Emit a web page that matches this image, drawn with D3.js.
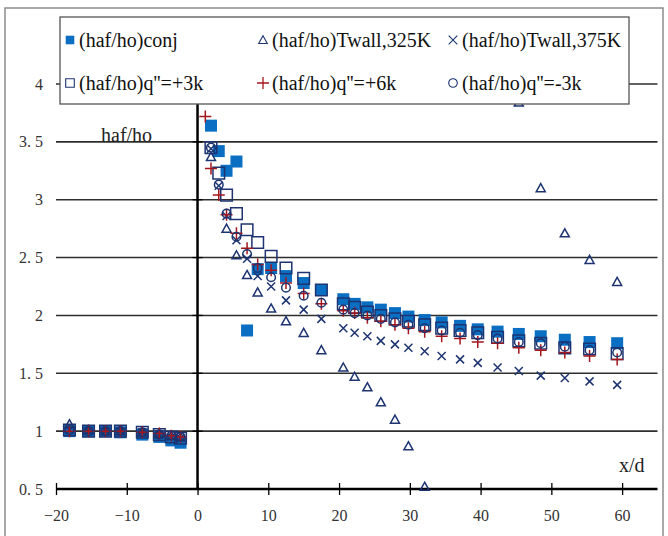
<!DOCTYPE html>
<html lang="en">
<head>
    <meta charset="UTF-8">
    <title>haf/ho vs x/d</title>
    <script src="https://d3js.org/d3.v7.min.js"></script>
    <style>
        body { margin: 0; background: #fff; }
        text { font-family: "Liberation Serif", "DejaVu Serif", serif; fill: #222; }
    </style>
</head>
<body>
<script>
    const width = 668;
    const height = 536;

    // measuring stations (x/d), upstream and downstream of the step
    const xLeft  = [-18.1, -15.4, -13.0, -10.9, -7.8, -5.4, -3.7, -2.4];
    const xRight = [1.1, 1.9, 3.0, 4.1, 5.5, 7.0, 8.5, 10.4, 12.5, 15.0, 17.5, 20.6, 22.2, 24.0,
                    25.9, 27.9, 29.8, 32.1, 34.5, 37.1, 39.6, 42.4, 45.4, 48.5, 51.9, 55.4, 59.3];
    const xStations = xLeft.concat(xRight);

    // haf/ho for each series (null = not shown)
    const conj   = [1.00,1.00,1.00,0.99,0.97,0.95,0.92,0.90,
                    null,3.64,3.42,3.25,3.33,1.87,2.40,2.41,2.34,2.28,2.22,2.14,2.10,2.07,2.05,2.02,1.99,1.96,1.94,1.91,1.88,1.86,1.84,1.82,1.79,1.77,1.76];
    const tw325  = [1.06,1.01,1.00,1.00,0.99,0.98,0.96,0.95,
                    null,3.37,null,2.75,2.52,2.35,2.20,2.06,1.95,1.85,1.70,1.55,1.47,1.38,1.25,1.10,0.87,0.52,null,null,null,null,3.84,3.10,2.71,2.48,2.29];
    const tw375  = [1.01,1.00,1.00,1.00,0.99,0.97,0.95,0.94,
                    null,3.44,3.12,2.86,2.65,2.49,2.34,2.25,2.13,2.05,1.97,1.89,1.85,1.82,1.78,1.75,1.72,1.69,1.65,1.62,1.59,1.55,1.52,1.48,1.46,1.43,1.40];
    const qPlus3 = [1.01,1.00,1.00,1.00,0.99,0.97,0.95,0.94,
                    null,3.45,3.23,3.04,2.88,2.74,2.63,2.51,2.41,2.32,2.22,2.10,2.07,2.03,2.00,1.97,1.95,1.92,1.89,1.87,1.85,1.81,1.78,1.76,1.72,1.71,1.67];
    const qPlus6 = [1.00,1.00,1.00,1.00,0.99,0.98,0.96,0.95,
                    3.72,3.27,3.04,2.87,2.71,2.58,2.44,2.39,2.28,2.19,2.10,2.04,2.02,1.98,1.95,1.92,1.89,1.86,1.82,1.80,1.77,1.76,1.72,1.70,1.68,1.65,1.62];
    const qMin3  = [1.01,1.00,1.00,1.00,0.99,0.97,0.96,0.95,
                    null,3.45,3.13,2.88,2.68,2.53,2.41,2.33,2.24,2.17,2.11,2.05,2.02,2.00,1.97,1.94,1.92,1.89,1.87,1.85,1.83,1.80,1.77,1.76,1.73,1.70,1.68];

    const seriesNames = ["(haf/ho)conj", "(haf/ho)Twall,325K", "(haf/ho)Twall,375K",
                         "(haf/ho)q''=+3k", "(haf/ho)q''=+6k", "(haf/ho)q''=-3k"];

    const xTicks = [-20, -10, 0, 10, 20, 30, 40, 50, 60];
    const yTicks = [0.5, 1, 1.5, 2, 2.5, 3, 3.5, 4];

    const navy = "#1d3471";
    const blue = "#0a6fc2";
    const red  = "#a5161c";

    // marker shapes, s = half size
    const shapes = {
        filledSquare: s => `M${-s},${-s}H${s}V${s}H${-s}Z`,
        openSquare:   s => `M${-s},${-s}H${s}V${s}H${-s}Z`,
        triangle:     s => `M0,${-s}L${s},${s*0.8}L${-s},${s*0.8}Z`,
        cross:        s => `M${-s},${-s}L${s},${s}M${s},${-s}L${-s},${s}`,
        plus:         s => `M${-s},0H${s}M0,${-s}V${s}`,
        circle:       s => `M${s},0A${s},${s} 0 1,1 ${-s},0A${s},${s} 0 1,1 ${s},0Z`
    };

    const series = [
        {name: seriesNames[0], values: conj,   shape: "filledSquare", size: 6,   fill: blue,   stroke: "none"},
        {name: seriesNames[1], values: tw325,  shape: "triangle",     size: 4.5, fill: "none", stroke: navy},
        {name: seriesNames[2], values: tw375,  shape: "cross",        size: 4,   fill: "none", stroke: navy},
        {name: seriesNames[3], values: qPlus3, shape: "openSquare",   size: 5.8, fill: "none", stroke: navy},
        {name: seriesNames[4], values: qPlus6, shape: "plus",         size: 6,   fill: "none", stroke: red},
        {name: seriesNames[5], values: qMin3,  shape: "circle",       size: 4.3, fill: "none", stroke: navy}
    ];

    const svg = d3.select("body").append("svg")
            .attr("width", width).attr("height", height);

    const x = d3.scaleLinear().domain([-20, 65]).range([56, 657.5]);
    const y = d3.scaleLinear().domain([0.5, 4]).range([489, 84]);

    // chart border
    svg.append("rect")
            .attr("x", 5).attr("y", 8)
            .attr("width", 658).attr("height", 532)
            .style("fill", "none")
            .style("stroke", "#8c8c8c")
            .style("stroke-width", 1.5);

    drawGrid();
    drawAxes();
    drawSeries();
    drawLegend();

    function drawGrid() {
        svg.append("g").attr("class", "grid")
                .selectAll("line")
                .data(yTicks.filter(d => d > 0.5))
                .enter()
                .append("line")
                .attr("x1", x(-20)).attr("x2", x(65))
                .attr("y1", d => y(d)).attr("y2", d => y(d))
                .style("stroke", "#2e2e2e")
                .style("stroke-width", 1.6);
    }

    function drawAxes() {
        const fmt = d => String(d).replace(".", ". ");

        // x axis sits on y = 0.5
        const xAxis = svg.append("g")
                .attr("transform", `translate(0,${y(0.5)})`)
                .call(d3.axisBottom(x).tickValues(xTicks).tickSize(6).tickFormat(d => d < 0 ? "\u2212" + (-d) : d));
        xAxis.select(".domain").remove();
        xAxis.append("line")
                .attr("x1", x(-20)).attr("x2", x(65))
                .style("stroke", "#000").style("stroke-width", 2.5);
        xAxis.selectAll(".tick line")
                .attr("y1", -6).attr("y2", 6)
                .style("stroke", "#000").style("stroke-width", 1.3);
        xAxis.selectAll(".tick text")
                .attr("y", 21)
                .style("font-size", "16px")
                .style("fill", "#333");

        // y axis line at x = 0, labels low on the left
        svg.append("line")
                .attr("x1", x(0)).attr("x2", x(0))
                .attr("y1", y(4)).attr("y2", y(0.5))
                .style("stroke", "#000").style("stroke-width", 2.5);

        svg.append("g").selectAll("line")
                .data(yTicks)
                .enter()
                .append("line")
                .attr("x1", x(0) - 5).attr("x2", x(0) + 5)
                .attr("y1", d => y(d)).attr("y2", d => y(d))
                .style("stroke", "#000").style("stroke-width", 1.3);

        svg.append("g").selectAll("text")
                .data(yTicks)
                .enter()
                .append("text")
                .attr("x", 43)
                .attr("y", d => y(d))
                .attr("dy", "0.35em")
                .attr("text-anchor", "end")
                .style("font-size", "16px")
                .style("fill", "#333")
                .text(fmt);

        svg.append("text")
                .attr("x", 101).attr("y", 142)
                .style("font-size", "20px")
                .text("haf/ho");

        svg.append("text")
                .attr("x", 619).attr("y", 472)
                .style("font-size", "20px")
                .text("x/d");
    }

    function drawSeries() {
        series.forEach(function(s) {
            const pts = xStations
                    .map((xv, i) => ({x: xv, y: s.values[i]}))
                    .filter(p => p.y != null);

            svg.append("g").attr("class", "series")
                    .selectAll("path")
                    .data(pts)
                    .enter()
                    .append("path")
                    .attr("transform", p => `translate(${x(p.x)},${y(p.y)})`)
                    .attr("d", shapes[s.shape](s.size))
                    .style("fill", s.fill)
                    .style("stroke", s.stroke)
                    .style("stroke-width", 1.5);
        });
    }

    function drawLegend() {
        const cols = [70, 263, 453];
        const rows = [40, 83];

        svg.append("rect")
                .attr("x", 60).attr("y", 17)
                .attr("width", 569).attr("height", 87)
                .style("fill", "#fff")
                .style("stroke", "#555")
                .style("stroke-width", 1.3);

        const item = svg.append("g").attr("class", "legend")
                .selectAll("g")
                .data(series)
                .enter()
                .append("g")
                .attr("transform", (d, i) => `translate(${cols[i % 3]},${rows[Math.floor(i / 3)]})`);

        item.append("path")
                .attr("d", d => shapes[d.shape](d.shape === "plus" ? 6 : 4.3))
                .style("fill", d => d.fill)
                .style("stroke", d => d.stroke)
                .style("stroke-width", d => d.shape === "plus" ? 1.3 : 1.1);

        item.append("text")
                .attr("x", 9)
                .attr("dy", "0.35em")
                .style("font-size", "20px")
                .style("fill", "#111")
                .text(d => d.name);
    }
</script>
</body>
</html>
